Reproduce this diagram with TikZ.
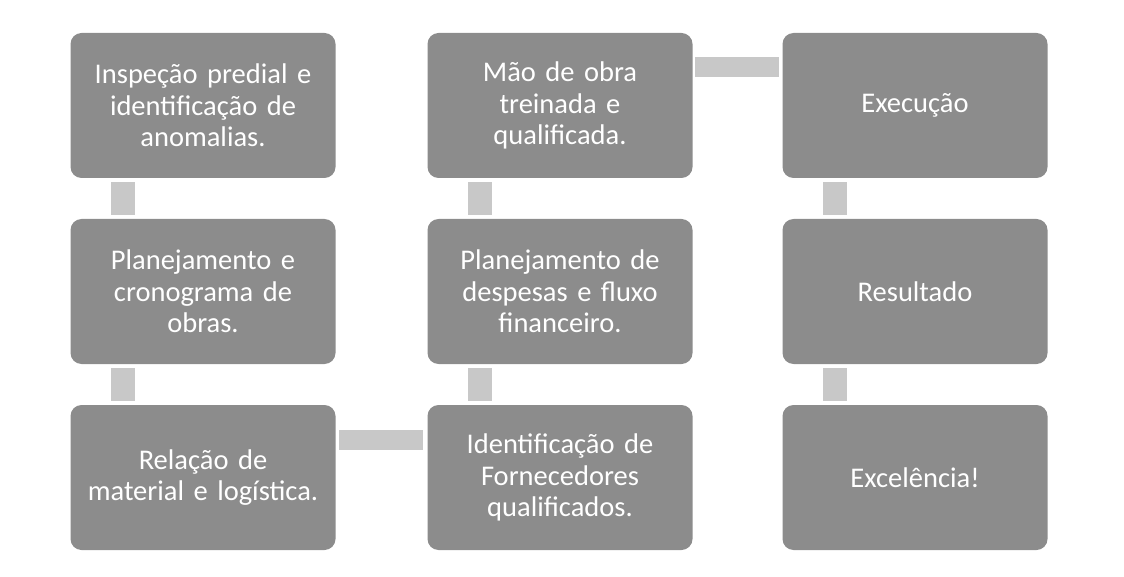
\documentclass[tikz,border=0pt]{standalone}
\usepackage{fontspec}
\setmainfont{Carlito}
\begin{document}
\begin{tikzpicture}[x=1pt,y=-1pt,
  box/.style={draw=none,fill=boxgray,rounded corners=11pt,minimum width=265pt,minimum height=145pt,text=white,align=center,font=\fontsize{28.5}{31.5}\selectfont,inner sep=0pt,text width=255pt},
  conn/.style={fill=conngray,draw=none}]
\definecolor{boxgray}{HTML}{8C8C8C}
\definecolor{conngray}{HTML}{C8C8C8}
\useasboundingbox (0,0) rectangle (1124,577);
\node[box] (a1) at (203,105.5) {Inspeção predial e\\identificação de\\anomalias.};
\node[box] (a2) at (203,291.5) {Planejamento e\\cronograma de\\obras.};
\node[box] (a3) at (203,477.5) {Relação de\\material e logística.};
\node[box] (b1) at (560,105.5) {Mão de obra\\treinada e\\qualificada.};
\node[box] (b2) at (560,291.5) {Planejamento de\\despesas e fluxo\\financeiro.};
\node[box] (b3) at (560,477.5) {Identificação de\\Fornecedores\\qualificados.};
\node[box] (c1) at (915,105.5) {Execução};
\node[box] (c2) at (915,291.5) {Resultado};
\node[box] (c3) at (915,477.5) {Excelência!};
\foreach \u/\v in {a1/a2,a2/a3,b2/b3,b1/b2,c1/c2,c2/c3}{
  \fill[conngray] ([xshift=41pt,yshift=-4pt]\u.south west) rectangle ([xshift=65pt,yshift=4pt]\v.north west);
}
\fill[conngray] ([xshift=3pt,yshift=-25pt]a3.north east) rectangle ([xshift=-4pt,yshift=-45pt]b3.north west);
\fill[conngray] ([xshift=2pt,yshift=-24pt]b1.north east) rectangle ([xshift=-3pt,yshift=-44pt]c1.north west);
\end{tikzpicture}
\end{document}
